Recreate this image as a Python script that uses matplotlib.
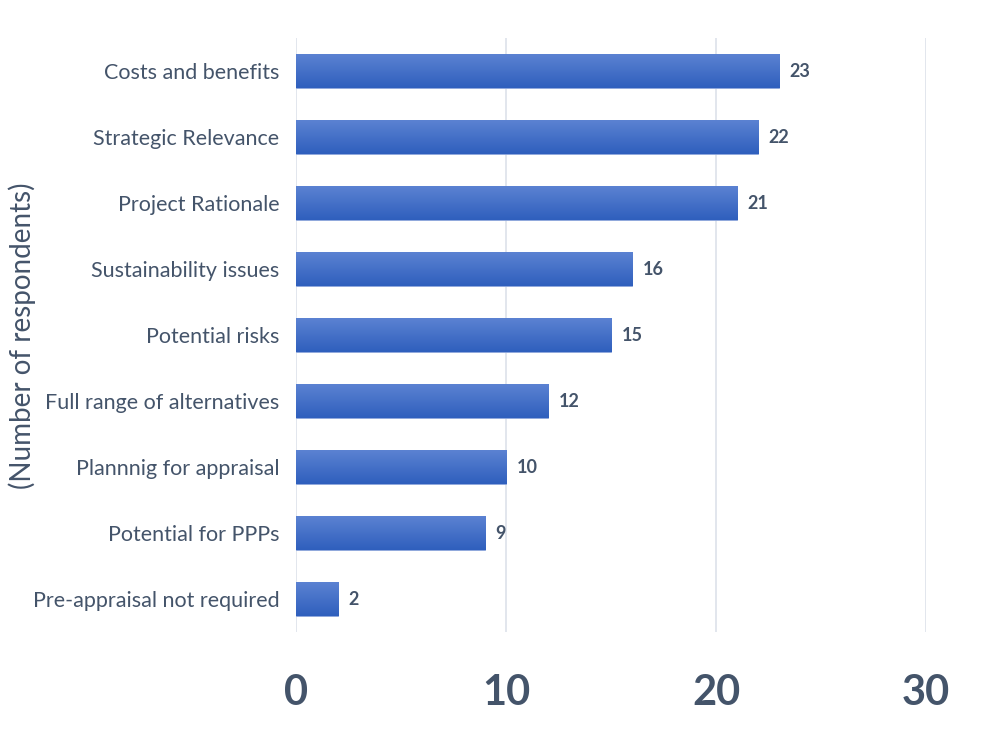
import matplotlib
matplotlib.use("Agg")
import matplotlib.pyplot as plt
import numpy as np
from matplotlib.colors import LinearSegmentedColormap

categories = ["Costs and benefits", "Strategic Relevance", "Project Rationale",
              "Sustainability issues", "Potential risks", "Full range of alternatives",
              "Plannnig for appraisal", "Potential for PPPs", "Pre-appraisal not required"]
values = [23, 22, 21, 16, 15, 12, 10, 9, 2]
xticks = [0, 10, 20, 30]

plt.rcParams['font.family'] = ['Lato', 'DejaVu Sans']
txt = "#44546A"

fig = plt.figure(figsize=(9.81, 7.38), dpi=100)
ax = fig.add_axes([0.3017, 0.1436, 0.6423, 0.8049])

y = np.arange(len(categories))
bars = ax.barh(y, values, height=0.5, color="#3b68c6", edgecolor="#8fa8dc", linewidth=0.6, zorder=3)
cmap = LinearSegmentedColormap.from_list("g", ["#2f5fbd", "#5b82d2"])
grad = np.linspace(0, 1, 64).reshape(-1, 1)
for b in bars:
    x0, y0, w, h = b.get_x(), b.get_y(), b.get_width(), b.get_height()
    ax.imshow(grad, extent=[x0, x0 + w, y0, y0 + h], cmap=cmap, aspect="auto",
              origin="upper", zorder=3.5)
for yi, v in zip(y, values):
    ax.text(v + 0.5, yi, str(v), va="center", ha="left", fontsize=13, color=txt, fontweight="bold")

ax.set_ylim(len(categories) - 0.5, -0.5)
ax.set_xlim(0, 30)
ax.set_xticks(xticks)
ax.set_xticklabels([str(t) for t in xticks], fontsize=30, fontweight="bold", color=txt)
ax.tick_params(axis="both", length=0)
ax.tick_params(axis="x", pad=30)
ax.set_yticks(y)
ax.set_yticklabels(categories, fontsize=15.5, color=txt)
ax.tick_params(axis="y", pad=12)
for s in ax.spines.values():
    s.set_visible(False)
ax.grid(axis="x", color="#dde1ea", linewidth=1.2, zorder=0)
ax.set_axisbelow(True)
fig.text(0.023, 0.545, "(Number of respondents)", rotation=90, va="center", ha="center",
         fontsize=20, color=txt)

fig.savefig("out.png", dpi=100, facecolor="white")
